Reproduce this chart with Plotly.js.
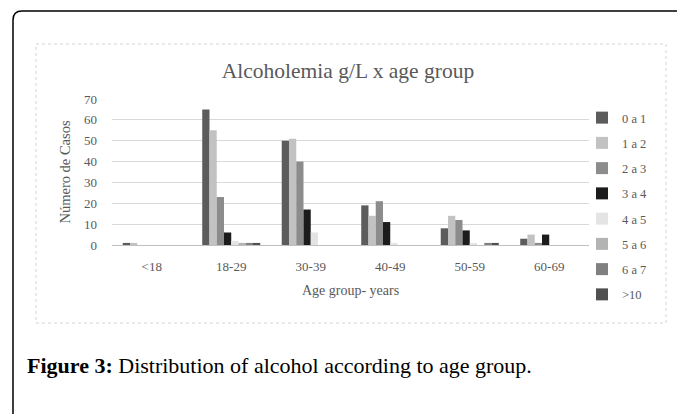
<!DOCTYPE html>
<html>
<head>
<meta charset="utf-8">
<script src="https://cdn.plot.ly/plotly-3.0.1.min.js"></script>
<style>html,body{margin:0;padding:0;background:#fff;}#chart{width:677px;height:414px;}</style>
</head>
<body>
<div id="chart"></div>
<script>
// ---- data ----
const categories = ['<18', '18-29', '30-39', '40-49', '50-59', '60-69'];
const seriesNames = ['0 a 1', '1 a 2', '2 a 3', '3 a 4', '4 a 5', '5 a 6', '6 a 7', '>10'];
const s0a1 = [1, 65, 50, 19, 8, 3];
const s1a2 = [1, 55, 51, 14, 14, 5];
const s2a3 = [0, 23, 40, 21, 12, 1];
const s3a4 = [0, 6, 17, 11, 7, 5];
const s4a5 = [0, 2, 6, 1, 1, 0];
const s5a6 = [0, 1, 0, 0, 0, 0];
const s6a7 = [0, 1, 0, 0, 1, 0];
const sGt10 = [0, 1, 0, 0, 1, 0];
const yTicks = [0, 10, 20, 30, 40, 50, 60, 70];

// ---- styling ----
const seriesValues = [s0a1, s1a2, s2a3, s3a4, s4a5, s5a6, s6a7, sGt10];
const colors = ['#5c5c5c', '#c2c2c2', '#8c8c8c', '#1c1c1c', '#e4e4e4', '#b3b3b3', '#808080', '#505050'];
const gray = '#595959';
const serif = 'Liberation Serif, DejaVu Serif, serif';

// plot-area pixel box (for placing decorations)
const L = 112, R = 589, T = 99, B = 245;
const fx = px => (px - L) / (R - L);
const fy = py => (B - py) / (B - T);

const traces = seriesNames.map((n, i) => ({
  type: 'bar',
  name: n,
  x: categories,
  y: seriesValues[i],
  marker: {color: colors[i], line: {width: 0}},
  legendgroup: 'g' + i,
  hoverinfo: 'x+y+name'
}));

const framePath = `M ${fx(13)} ${fy(414)} L ${fx(13)} ${fy(20)} Q ${fx(13)} ${fy(11)} ${fx(22)} ${fy(11)} L ${fx(677)} ${fy(11)}`;

const layout = {
  width: 677, height: 414,
  margin: {l: L, r: 677 - R, t: T, b: 414 - B, pad: 0},
  paper_bgcolor: '#ffffff', plot_bgcolor: '#ffffff',
  barmode: 'group', bargap: 0.27, bargroupgap: 0,
  font: {family: serif, color: gray, size: 12},
  title: {
    text: 'Alcoholemia g/L x age group',
    font: {family: serif, size: 21.5, color: gray},
    xref: 'container', x: 348 / 677, xanchor: 'center',
    yref: 'container', y: 1 - 70 / 414, yanchor: 'middle'
  },
  xaxis: {
    type: 'category',
    showgrid: false, showline: false, zeroline: false,
    ticks: '', ticklabelstandoff: 12,
    tickfont: {family: serif, size: 13, color: gray},
    title: {text: 'Age group- years', font: {family: serif, size: 14, color: gray}, standoff: 12}
  },
  yaxis: {
    range: [0, 70], tickvals: yTicks,
    showgrid: true, gridcolor: '#d9d9d9', gridwidth: 1,
    zeroline: true, zerolinecolor: '#bfbfbf', zerolinewidth: 1,
    showline: false, ticks: '', ticklabelstandoff: 14,
    tickfont: {family: serif, size: 13, color: gray},
    title: {text: 'Número de Casos', font: {family: serif, size: 14.5, color: gray}, standoff: 9}
  },
  legend: {
    x: fx(582), xanchor: 'left', y: fy(103), yanchor: 'top',
    font: {family: serif, size: 12.5, color: gray},
    bgcolor: 'rgba(0,0,0,0)', tracegroupgap: 6, itemwidth: 30,
    maxheight: 400
  },
  shapes: [
    {type: 'rect', xref: 'paper', yref: 'paper', x0: fx(36), x1: fx(666), y0: fy(323), y1: fy(44),
     line: {color: '#d4d4d4', width: 1, dash: 'dot'}, layer: 'below'},
    {type: 'path', xref: 'paper', yref: 'paper', path: framePath, line: {color: '#000', width: 1.5}}
  ],
  annotations: [
    {xref: 'paper', yref: 'paper', x: fx(25), y: fy(365), xanchor: 'left', yanchor: 'middle',
     showarrow: false, align: 'left',
     text: '<b>Figure 3:</b> Distribution of alcohol according to age group.',
     font: {family: serif, size: 22, color: '#000'}}
  ]
};

Plotly.newPlot('chart', traces, layout, {displayModeBar: false, staticPlot: true});
</script>
</body>
</html>
